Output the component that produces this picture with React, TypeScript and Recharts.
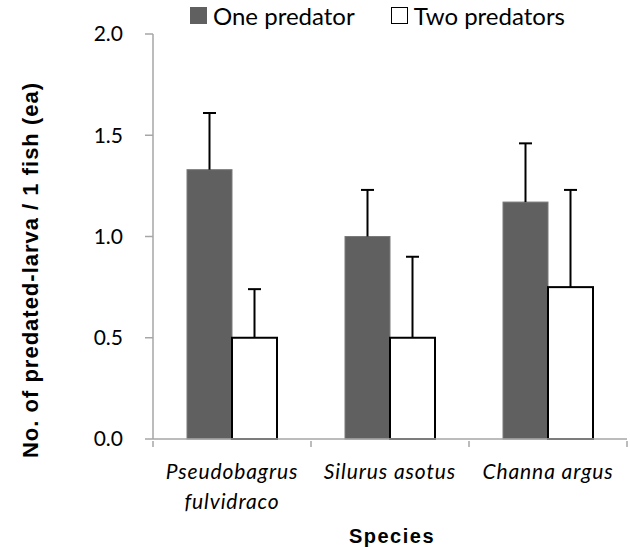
import React from "react"
import { BarChart, Bar, XAxis, YAxis, Legend, Label } from "recharts"

const categories = ["Pseudobagrus\nfulvidraco", "Silurus asotus", "Channa argus"]
const onePredator = [1.33, 1.0, 1.17]
const onePredatorErr = [0.28, 0.23, 0.29]
const twoPredators = [0.5, 0.5, 0.75]
const twoPredatorsErr = [0.24, 0.4, 0.48]
const yTicks = [0, 0.5, 1.0, 1.5, 2.0]

const data = categories.map((name, i) => ({
    name,
    one: onePredator[i],
    oneErr: onePredatorErr[i],
    two: twoPredators[i],
    twoErr: twoPredatorsErr[i],
}))

const AXIS = "#a6a6a6"
const DARK = "#606060"

// bar plus an upward-only error whisker (Excel style)
function BarWithError(props: any) {
    const { x, y, width, height, payload, valueKey, errKey, fill, stroke, strokeWidth } = props
    const val = payload[valueKey]
    const err = payload[errKey]
    const cx = x + width / 2
    const errTop = y - (err / val) * height
    return (
        <g>
            <rect x={x} y={y} width={width} height={height} fill={fill} stroke={stroke} strokeWidth={strokeWidth} />
            <line x1={cx} y1={y} x2={cx} y2={errTop} stroke="#000" strokeWidth={2} />
            <line x1={cx - 6.5} y1={errTop} x2={cx + 6.5} y2={errTop} stroke="#000" strokeWidth={2} />
        </g>
    )
}

function CategoryTick(props: any) {
    const { x, y, payload, visibleTicksCount } = props
    const half = payload.offset ?? 79
    const lines = String(payload.value).split("\n")
    const isLast = payload.index === visibleTicksCount - 1
    return (
        <g>
            <line x1={x - half} y1={y} x2={x - half} y2={y + 6} stroke={AXIS} strokeWidth={1.5} />
            {isLast && <line x1={x + half} y1={y} x2={x + half} y2={y + 6} stroke={AXIS} strokeWidth={1.5} />}
            {lines.map((l, i) => (
                <text
                    key={i}
                    x={x}
                    y={y + 38 + i * 30}
                    textAnchor="middle"
                    fill="#000"
                    style={{ fontFamily: "Lato", fontStyle: "italic", fontSize: 21, letterSpacing: 0.9 }}
                >
                    {l}
                </text>
            ))}
        </g>
    )
}

function LegendContent() {
    const items = [
        { label: "One predator", fill: DARK, border: DARK },
        { label: "Two predators", fill: "#fff", border: "#000" },
    ]
    return (
        <div style={{ display: "flex", alignItems: "center", height: 30, paddingLeft: 190, fontFamily: "Lato", fontSize: 24, color: "#000" }}>
            {items.map((it, i) => (
                <div key={i} style={{ display: "flex", alignItems: "center", marginRight: 36 }}>
                    <span style={{ display: "inline-block", width: 15, height: 15, background: it.fill, border: `1.5px solid ${it.border}`, marginRight: 6 }} />
                    <span>{it.label}</span>
                </div>
            ))}
        </div>
    )
}

export default function App() {
    return (
        <div style={{ position: "absolute", left: 0, top: 0, width: 630, height: 547, background: "#fff" }}>
            <BarChart
                width={630}
                height={547}
                data={data}
                margin={{ top: 4, right: 3, bottom: 0, left: 0 }}
                barCategoryGap={34}
                barGap={0}
            >
                <Legend
                    verticalAlign="top"
                    content={<LegendContent />}
                    wrapperStyle={{ top: 0, left: 0, width: 630, height: 30 }}
                />
                <XAxis
                    dataKey="name"
                    height={108}
                    axisLine={{ stroke: AXIS, strokeWidth: 1.5 }}
                    tickLine={false}
                    tickSize={0}
                    interval={0}
                    tick={<CategoryTick />}
                >
                    <Label
                        content={() => (
                            <text x={392} y={543} textAnchor="middle" fill="#000" style={{ fontFamily: "Liberation Sans", fontWeight: "bold", fontSize: 20, letterSpacing: 1.5 }}>
                                Species
                            </text>
                        )}
                    />
                </XAxis>
                <YAxis
                    width={153}
                    domain={[0, 2]}
                    ticks={yTicks}
                    interval={0}
                    tickFormatter={(v: number) => v.toFixed(1)}
                    axisLine={{ stroke: AXIS, strokeWidth: 1.5 }}
                    tickLine={{ stroke: AXIS, strokeWidth: 1.5 }}
                    tickSize={8}
                    tickMargin={22}
                    tick={{ fill: "#000", fontFamily: "Lato", fontSize: 21 }}
                >
                    <Label
                        content={() => (
                            <text
                                transform="translate(30,270) rotate(-90)"
                                textAnchor="middle"
                                dominantBaseline="central"
                                fill="#000"
                                style={{ fontFamily: "Liberation Sans", fontWeight: "bold", fontSize: 22, letterSpacing: 1 }}
                            >
                                No. of predated-larva / 1 fish (ea)
                            </text>
                        )}
                    />
                </YAxis>
                <Bar
                    dataKey="one"
                    name="One predator"
                    fill={DARK}
                    stroke="#7a7a7a"
                    strokeWidth={1}
                    isAnimationActive={false}
                    shape={(p: any) => <BarWithError {...p} valueKey="one" errKey="oneErr" />}
                />
                <Bar
                    dataKey="two"
                    name="Two predators"
                    fill="#fff"
                    stroke="#000"
                    strokeWidth={2}
                    isAnimationActive={false}
                    shape={(p: any) => <BarWithError {...p} valueKey="two" errKey="twoErr" />}
                />
            </BarChart>
        </div>
    )
}
